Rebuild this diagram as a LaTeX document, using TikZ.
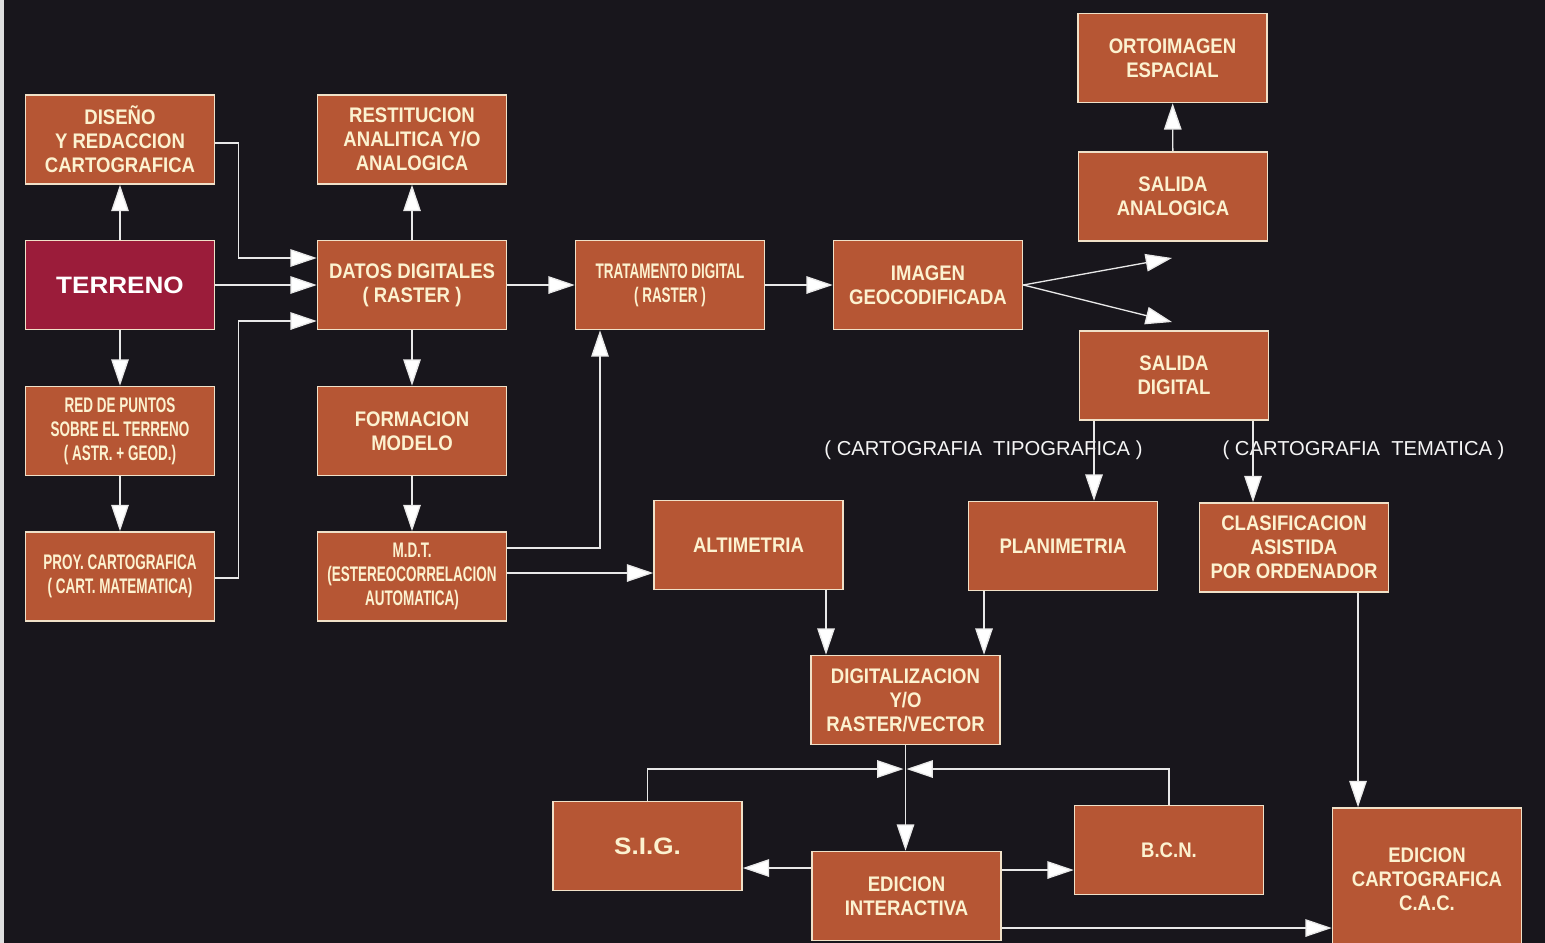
\documentclass[tikz,border=0pt]{standalone}
\usepackage{fontspec}
\setmainfont{Liberation Sans}
\newfontfamily\fN{Liberation Sans}[FakeStretch=0.88]
\newfontfamily\fC{Liberation Sans}[FakeStretch=0.64]
\newfontfamily\fW{Liberation Sans}[FakeStretch=1.1]
\usetikzlibrary{arrows.meta,calc}
\definecolor{bgc}{RGB}{24,22,28}
\definecolor{boxfill}{RGB}{182,86,52}
\definecolor{terfill}{RGB}{155,28,58}
\definecolor{boxline}{RGB}{240,225,200}
\definecolor{txt}{RGB}{252,242,208}
\definecolor{lnc}{RGB}{232,232,232}
\begin{document}
\begin{tikzpicture}[x=0.02cm,y=-0.02cm,
  box/.style={draw=boxline,line width=0.9pt,fill=boxfill,text=txt,
    minimum width=3.78cm,minimum height=1.78cm,inner sep=0pt,align=center,
    font=\fN\bfseries\fontsize{12}{13.6}\selectfont},
  cbox/.style={box,font=\fC\bfseries\fontsize{12}{13.6}\selectfont},
  conn/.style={draw=lnc,line width=0.75pt,
    -{Triangle[length=15pt,width=10pt,fill=white]}},
  lab/.style={text=white!92!gray,inner sep=0pt,font=\fontsize{11.5}{14}\selectfont}]
\useasboundingbox (0,0) rectangle (1545,943);
\fill[bgc] (0,0) rectangle (1545,943);
\fill[gray!25!white] (0,0) rectangle (4,943);

% boxes
\node[box] (dis) at (120,139.5) {DISEÑO\\Y REDACCION\\CARTOGRAFICA};
\node[box] (res) at (412,139.5) {RESTITUCION\\ANALITICA Y/O\\ANALOGICA};
\node[box,fill=terfill,text=white,font=\fW\bfseries\fontsize{13.5}{15}\selectfont] (ter) at (120,285) {TERRENO};
\node[box] (dat) at (412,285) {DATOS DIGITALES\\( RASTER )};
\node[cbox] (red) at (120,431) {RED DE PUNTOS\\SOBRE EL TERRENO\\( ASTR. + GEOD.)};
\node[box] (for) at (412,431) {FORMACION\\MODELO};
\node[cbox] (proy) at (120,576.5) {PROY. CARTOGRAFICA\\( CART. MATEMATICA)};
\node[cbox] (mdt) at (412,576.5) {M.D.T.\\(ESTEREOCORRELACION\\AUTOMATICA)};
\node[cbox] (tra) at (670,285) {TRATAMENTO DIGITAL\\( RASTER )};
\node[box] (ima) at (928,285) {IMAGEN\\GEOCODIFICADA};
\node[box] (orto) at (1172.5,58) {ORTOIMAGEN\\ESPACIAL};
\node[box] (sana) at (1173,196.5) {SALIDA\\ANALOGICA};
\node[box] (sdig) at (1174,375.5) {SALIDA\\DIGITAL};
\node[box] (alt) at (748.5,545) {ALTIMETRIA};
\node[box] (pla) at (1063,546) {PLANIMETRIA};
\node[box] (cla) at (1294,547.5) {CLASIFICACION\\ASISTIDA\\POR ORDENADOR};
\node[box] (dig) at (905.5,700) {DIGITALIZACION\\Y/O\\RASTER/VECTOR};
\node[box,font=\fW\bfseries\fontsize{13.5}{15}\selectfont] (sig) at (647.5,846) {S.I.G.};
\node[box] (bcn) at (1169,850) {B.C.N.};
\node[box] (edi) at (906.5,896) {EDICION\\INTERACTIVA};
\node[box,minimum height=2.84cm] (edc) at (1427,879) {EDICION\\CARTOGRAFICA\\C.A.C.};

% labels
\node[lab] (ltip) at (983.5,450) {(~CARTOGRAFIA~~TIPOGRAFICA~)};
\node[lab] (ltem) at (1363.5,450) {(~CARTOGRAFIA~~TEMATICA~)};

% connectors
\draw[conn] (ter) -- (dis);
\draw[conn] (ter) -- (red);
\draw[conn] (red) -- (proy);
\draw[conn] (ter) -- (dat);
\draw[conn] ($(dis.east)+(0,3.5)$) -- ++(23,0) |- ($(dat.west)+(0,-27)$);
\draw[conn] ($(proy.east)+(0,1.5)$) -- ++(23,0) |- ($(dat.west)+(0,36)$);
\draw[conn] (dat) -- (res);
\draw[conn] (dat) -- (for);
\draw[conn] (for) -- (mdt);
\draw[conn] (dat) -- (tra);
\draw[conn] ($(mdt.east)+(0,-28.5)$) -| ($(tra.south)+(-70,0)$);
\coordinate (m2) at ($(mdt.east)+(0,-3.5)$);
\draw[conn] (m2) -- (m2 -| alt.west);
\draw[conn] (tra) -- (ima);
\coordinate (oa) at (1172,258);
\coordinate (od) at (1172,322);
\draw[conn] (ima.east) -- (oa);
\draw[conn] (ima.east) -- (od);
\draw[conn] (sana) -- (orto);
\coordinate (p1) at ($(sdig.south)+(-80,0)$);
\draw[conn] (p1) -- (p1 |- pla.north);
\coordinate (p2) at ($(sdig.south)+(79,0)$);
\draw[conn] (p2) -- (p2 |- cla.north);
\coordinate (p3) at ($(alt.south)+(77.5,0)$);
\draw[conn] (p3) -- (p3 |- dig.north);
\coordinate (p4) at ($(pla.south)+(-79,0)$);
\draw[conn] (p4) -- (p4 |- dig.north);
\draw[conn] (dig.south) -- (dig.south |- edi.north);
\coordinate (jn) at (905,769);
\draw[conn] (sig.north) |- ($(jn)+(-1.5,0)$);
\draw[conn] (bcn.north) |- ($(jn)+(1.5,0)$);
\coordinate (e1) at ($(edi.west)+(0,-28)$);
\draw[conn] (e1) -- (e1 -| sig.east);
\coordinate (e2) at ($(edi.east)+(0,-26)$);
\draw[conn] (e2) -- (e2 -| bcn.west);
\coordinate (e3) at ($(edi.east)+(0,32)$);
\draw[conn] (e3) -- (e3 -| edc.west);
\coordinate (p5) at ($(cla.south)+(64,0)$);
\draw[conn] (p5) -- (p5 |- edc.north);
\end{tikzpicture}
\end{document}
